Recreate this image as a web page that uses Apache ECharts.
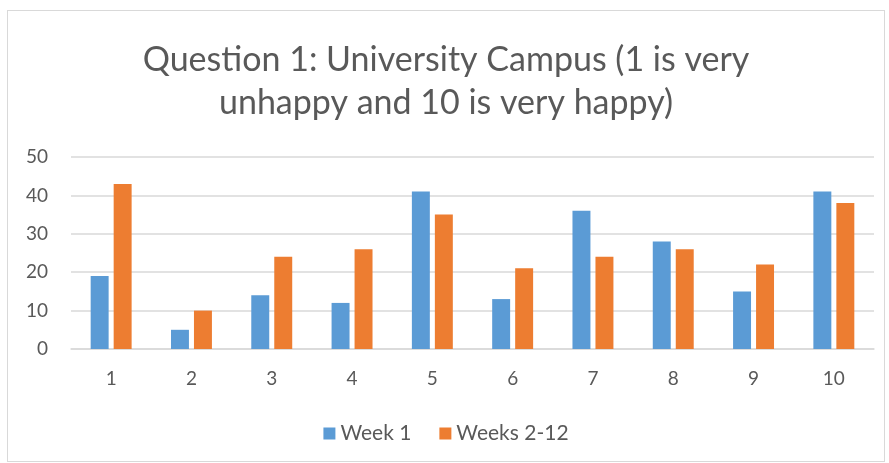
<!DOCTYPE html>
<html>
<head>
<meta charset="utf-8">
<script src="https://cdn.jsdelivr.net/npm/echarts@6/dist/echarts.min.js"></script>
<style>
  html, body { margin: 0; padding: 0; background: #fff; }
  #chart { position: absolute; left: 7px; top: 10px; width: 878px; height: 452px; border: 1px solid #d9d9d9; box-sizing: border-box; }
</style>
</head>
<body>
<div id="chart"></div>
<script>
// Ratings 1..10 on the x-axis
const ratings = ['1', '2', '3', '4', '5', '6', '7', '8', '9', '10'];
// No. of responses per rating
const week1 = [19, 5, 14, 12, 41, 13, 36, 28, 15, 41];
const weeks2to12 = [43, 10, 24, 26, 35, 21, 24, 26, 22, 38];

const font = 'Lato, "Open Sans", sans-serif';

let myChart = echarts.init(document.getElementById('chart'));

const options = {
  animation: false,
  title: {
    text: 'Question 1: University Campus (1 is very\nunhappy and 10 is very happy)',
    left: 'center',
    top: 23,
    textStyle: {
      color: '#595959',
      fontFamily: font,
      fontSize: 34,
      fontWeight: 'normal',
      lineHeight: 43,
    },
  },
  legend: {
    bottom: 12,
    left: 'center',
    itemWidth: 12,
    itemHeight: 12,
    itemGap: 28,
    icon: 'rect',
    textStyle: { color: '#595959', fontFamily: font, fontSize: 21 },
  },
  grid: {
    left: 63,
    right: 10,
    top: 146,
    bottom: 112,
  },
  xAxis: {
    type: 'category',
    data: ratings,
    axisLine: { lineStyle: { color: '#d9d9d9', width: 1.5 } },
    axisTick: { show: false },
    axisLabel: { color: '#595959', fontFamily: font, fontSize: 19, margin: 20 },
  },
  yAxis: {
    type: 'value',
    min: 0,
    max: 50,
    interval: 10,
    splitLine: { lineStyle: { color: '#d9d9d9', width: 1.5 } },
    axisLabel: { color: '#595959', fontFamily: font, fontSize: 19, margin: 23 },
  },
  series: [
    {
      name: 'Week 1',
      type: 'bar',
      data: week1,
      barGap: '28%',
      barCategoryGap: '49%',
      itemStyle: { color: '#5b9bd5' },
    },
    {
      name: 'Weeks 2-12',
      type: 'bar',
      data: weeks2to12,
      itemStyle: { color: '#ed7d31' },
    },
  ],
};

myChart.setOption(options);
</script>
</body>
</html>
